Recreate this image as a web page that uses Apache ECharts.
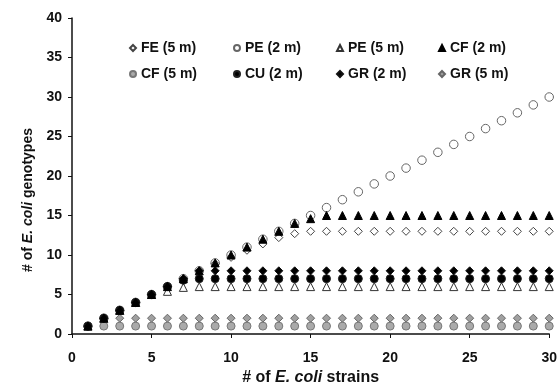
<!DOCTYPE html>
<html>
<head>
<meta charset="utf-8">
<script src="https://cdn.jsdelivr.net/npm/echarts@6/dist/echarts.min.js"></script>
<style>html,body{margin:0;padding:0;background:#fff}#c{width:560px;height:391px}</style>
</head>
<body>
<div id="c"></div>
<script>
var strains = [1,2,3,4,5,6,7,8,9,10,11,12,13,14,15,16,17,18,19,20,21,22,23,24,25,26,27,28,29,30];
var FE5 = [1,2,3,4,5,6,7,8,8.9,9.7,10.6,11.4,12.2,12.7,13,13,13,13,13,13,13,13,13,13,13,13,13,13,13,13];
var PE2 = [1,2,3,4,5,6,7,8,9,10,11,12,13,14,15,16,17,18,19,20,21,22,23,24,25,26,27,28,29,30];
var PE5 = [1,2,3,4,5,5.4,5.9,6,6,6,6,6,6,6,6,6,6,6,6,6,6,6,6,6,6,6,6,6,6,6];
var CF2 = [1,2,3,4,5,6,7,8,9,10,11,12,13,14,14.6,15,15,15,15,15,15,15,15,15,15,15,15,15,15,15];
var CF5 = [1,1,1,1,1,1,1,1,1,1,1,1,1,1,1,1,1,1,1,1,1,1,1,1,1,1,1,1,1,1];
var CU2 = [1,2,3,4,5,6,6.8,7,7,7,7,7,7,7,7,7,7,7,7,7,7,7,7,7,7,7,7,7,7,7];
var GR2 = [1,2,3,4,5,6,7,8,8,8,8,8,8,8,8,8,8,8,8,8,8,8,8,8,8,8,8,8,8,8];
var GR5 = [1,2,2,2,2,2,2,2,2,2,2,2,2,2,2,2,2,2,2,2,2,2,2,2,2,2,2,2,2,2];
var seriesNames = ['FE (5 m)','PE (2 m)','PE (5 m)','CF (2 m)','CF (5 m)','CU (2 m)','GR (2 m)','GR (5 m)'];
var xTicks = [0,5,10,15,20,25,30];
var yTicks = [0,5,10,15,20,25,30,35,40];

function pts(v){ return strains.map(function(s,i){ return [s, v[i]]; }); }
var FF = 'Liberation Sans, Arial, sans-serif';
var styles = {
  'FE (5 m)': {symbol:'diamond', fill:'#fff', stroke:'#444', size:8, data:FE5},
  'PE (2 m)': {symbol:'circle', fill:'#fff', stroke:'#666', size:8.5, data:PE2},
  'PE (5 m)': {symbol:'triangle', fill:'#fff', stroke:'#333', size:8, data:PE5},
  'CF (2 m)': {symbol:'triangle', fill:'#000', stroke:'#000', size:8, data:CF2},
  'CF (5 m)': {symbol:'circle', fill:'#aaa', stroke:'#777', size:8, data:CF5},
  'CU (2 m)': {symbol:'circle', fill:'#000', stroke:'#222', size:8, data:CU2},
  'GR (2 m)': {symbol:'diamond', fill:'#000', stroke:'#111', size:8, data:GR2},
  'GR (5 m)': {symbol:'diamond', fill:'#a0a0a0', stroke:'#666', size:8, data:GR5}
};
var drawOrder = ['PE (2 m)','FE (5 m)','CF (5 m)','GR (5 m)','PE (5 m)','CU (2 m)','GR (2 m)','CF (2 m)'];
var series = drawOrder.map(function(n){
  var s = styles[n];
  return {name:n, type:'scatter', symbol:s.symbol, symbolSize:s.size, data:pts(s.data),
    itemStyle:{color:s.fill, borderColor:s.stroke, borderWidth:1, opacity:1}, emphasis:{disabled:true}, silent:true};
});
var legendCols = [129, 233, 336, 438];
var legendRows = [41, 67];
var legends = seriesNames.map(function(n,i){
  return {data:[n], left:legendCols[i%4], top:legendRows[Math.floor(i/4)], itemWidth:6, itemHeight:6, itemGap:0, padding:0,
    textStyle:{fontFamily:FF, fontWeight:'bold', fontSize:14, color:'#111'}, selectedMode:false};
});
var chart = echarts.init(document.getElementById('c'), null, {renderer:'canvas'});
chart.setOption({
  animation:false,
  backgroundColor:'#fff',
  legend: legends,
  grid:{left:72, right:10, top:18, bottom:57},
  xAxis:{type:'value', min:0, max:30, interval:5,
    name:'# of {i|E. coli} strains', nameLocation:'middle', nameGap:36,
    nameTextStyle:{fontFamily:FF, fontWeight:'bold', fontSize:16, color:'#111', rich:{i:{fontFamily:FF, fontStyle:'italic', fontWeight:'bold', fontSize:16, color:'#111'}}},
    axisLine:{lineStyle:{color:'#111', width:1.5}}, axisTick:{inside:false, length:4, lineStyle:{color:'#111'}},
    axisLabel:{margin:17, fontFamily:FF, fontWeight:'bold', fontSize:14, color:'#111', formatter:function(v){return xTicks.indexOf(v)>=0? String(v):'';}},
    splitLine:{show:false}},
  yAxis:{type:'value', min:0, max:40, interval:5,
    name:'# of {i|E. coli} genotypes', nameLocation:'middle', nameGap:34,
    nameTextStyle:{fontFamily:FF, fontWeight:'bold', fontSize:14, color:'#111', padding:[0,48,0,0], rich:{i:{fontFamily:FF, fontStyle:'italic', fontWeight:'bold', fontSize:14, color:'#111'}}},
    axisLine:{show:true, lineStyle:{color:'#111', width:1.5}}, axisTick:{show:true, inside:false, length:4, lineStyle:{color:'#111'}},
    axisLabel:{margin:10, fontFamily:FF, fontWeight:'bold', fontSize:14, color:'#111', formatter:function(v){return yTicks.indexOf(v)>=0? String(v):'';}},
    splitLine:{show:false}},
  series: series
});
</script>
</body>
</html>
